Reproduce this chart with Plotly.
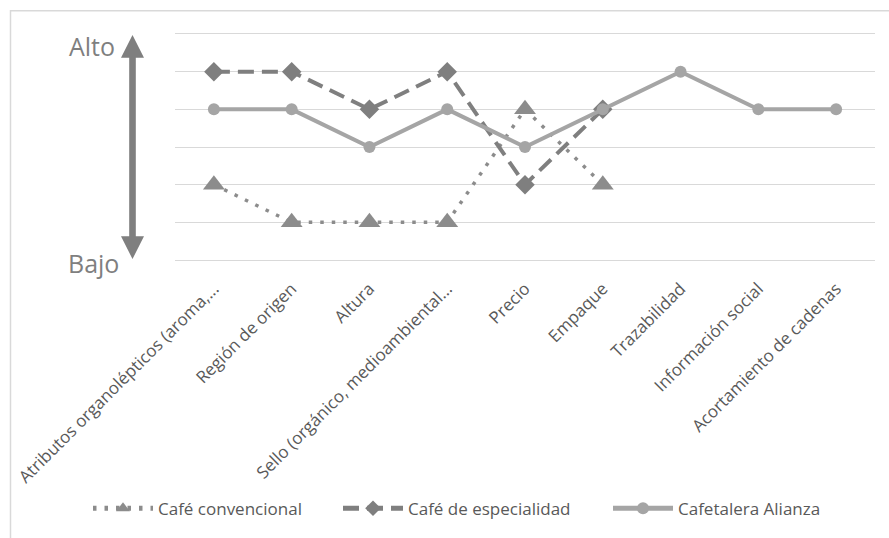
import plotly.graph_objects as go

# Attributes rated on a low-to-high scale (0 = Bajo, 6 = Alto)
categorias = [
    "Atributos organolépticos (aroma,...",
    "Región de origen",
    "Altura",
    "Sello (orgánico, medioambiental...",
    "Precio",
    "Empaque",
    "Trazabilidad",
    "Información social",
    "Acortamiento de cadenas",
]
cafe_convencional = [2, 1, 1, 1, 4, 2, None, None, None]
cafe_especialidad = [5, 5, 4, 5, 2, 4, None, None, None]
cafetalera_alianza = [4, 4, 3, 4, 3, 4, 5, 4, 4]

W, H = 889, 538
ML, MR, MT, MB = 175, 14, 34, 275
PW, PH = W - ML - MR, H - MT - MB


def px_x(p):
    return (p - ML) / PW


def px_y(p):
    return (H - MB - p) / PH


FONT = "Open Sans"
TXT = "#595959"

fig = go.Figure()
fig.add_trace(go.Scatter(
    x=categorias, y=cafe_convencional, name="Café convencional",
    mode="lines+markers", legend="legend",
    line=dict(color="#8c8c8c", width=3.5, dash="3.5px,8px"),
    marker=dict(symbol="triangle-up", size=19, color="#8c8c8c"),
))
fig.add_trace(go.Scatter(
    x=categorias, y=cafe_especialidad, name="Café de especialidad",
    mode="lines+markers", legend="legend2",
    line=dict(color="#7f7f7f", width=4, dash="16px,8px"),
    marker=dict(symbol="diamond", size=15, color="#7f7f7f"),
))
fig.add_trace(go.Scatter(
    x=categorias, y=cafetalera_alianza, name="Cafetalera Alianza",
    mode="lines+markers", legend="legend3",
    line=dict(color="#a5a5a5", width=4),
    marker=dict(symbol="circle", size=12, color="#a5a5a5"),
))

# Double-headed Bajo/Alto arrow
cx, sw, hw = 132.5, 3.3, 11.5
top_tip, top_base, bot_tip, bot_base = 35, 58, 262, 239
pts = [
    (cx, top_tip), (cx + hw, top_base), (cx + sw, top_base),
    (cx + sw, bot_base), (cx + hw, bot_base), (cx, bot_tip),
    (cx - hw, bot_base), (cx - sw, bot_base), (cx - sw, top_base),
    (cx - hw, top_base),
]
path = "M " + " L ".join(f"{px_x(a):.5f},{px_y(b):.5f}" for a, b in pts) + " Z"

shapes = [
    dict(type="path", path=path, xref="paper", yref="paper",
         fillcolor="#7f7f7f", line=dict(width=0)),
    # chart frame
    dict(type="rect", xref="paper", yref="paper",
         x0=px_x(10.5), y0=px_y(560), x1=px_x(910), y1=px_y(10.5),
         line=dict(color="#d9d9d9", width=1.5), fillcolor="rgba(0,0,0,0)"),
]

annotations = [
    dict(text="Alto", xref="paper", yref="paper", x=px_x(91.5), y=px_y(46),
         xanchor="center", yanchor="middle", showarrow=False,
         font=dict(family=FONT, size=25, color="#7f7f7f")),
    dict(text="Bajo", xref="paper", yref="paper", x=px_x(93), y=px_y(266),
         xanchor="center", yanchor="middle", showarrow=False,
         font=dict(family=FONT, size=25, color="#7f7f7f")),
]


def legend_at(px):
    return dict(
        orientation="h", x=px_x(px), y=px_y(515),
        xanchor="left", yanchor="middle",
        font=dict(family=FONT, size=17, color=TXT),
        itemwidth=60, itemsizing="constant",
        bgcolor="rgba(0,0,0,0)",
    )


fig.update_layout(
    width=W, height=H,
    margin=dict(l=ML, r=MR, t=MT, b=MB),
    paper_bgcolor="white", plot_bgcolor="white",
    font=dict(family=FONT, color=TXT),
    shapes=shapes, annotations=annotations,
    showlegend=True,
    legend=legend_at(88),
    legend2=legend_at(338),
    legend3=legend_at(608),
)
fig.update_xaxes(
    type="category", range=[-0.5, len(categorias) - 0.5],
    tickangle=-45, showgrid=False, ticks="",
    tickfont=dict(family=FONT, size=17, color=TXT),
    ticklabelstandoff=11,
    showline=True, mirror=True, linecolor="#d9d9d9", linewidth=1.3,
    zeroline=False,
)
fig.update_yaxes(
    range=[0, 6], dtick=1, showticklabels=False, ticks="",
    showgrid=True, gridcolor="#d9d9d9", gridwidth=1.3,
    zeroline=False, showline=False,
)

fig.write_html("out.html")
